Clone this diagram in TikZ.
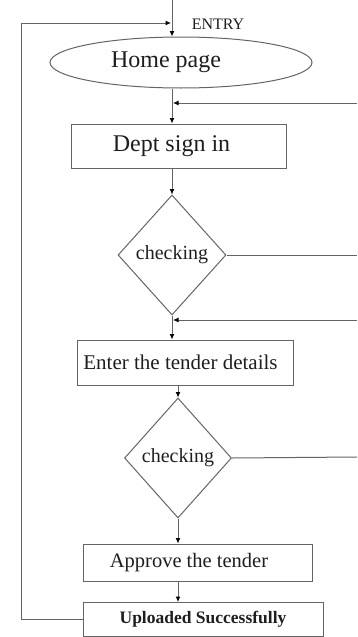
\documentclass[tikz,border=0pt]{standalone}
\usepackage{fontspec}
\setmainfont{Liberation Serif}
\usetikzlibrary{shapes.geometric, arrows.meta, positioning, calc}
\definecolor{linegray}{RGB}{100,100,100}
\definecolor{textgray}{RGB}{30,30,30}
\tikzset{
  block/.style={rectangle, draw=linegray, line width=1pt, inner sep=0pt,
                align=center, text=textgray},
  decision/.style={diamond, draw=linegray, line width=1pt, inner sep=0pt,
                   minimum width=108pt, minimum height=120pt, text=textgray,
                   font=\fontsize{20}{22}\selectfont},
  startstop/.style={ellipse, draw=linegray, line width=1pt, inner sep=0pt,
                    text=textgray},
  arrow/.style={-{Latex[length=5.5pt,width=5pt,color=black]}, line width=1pt, draw=linegray},
  link/.style={line width=1pt, draw=linegray},
}

\begin{document}
\begin{tikzpicture}[x=1pt, y=-1pt]
        \useasboundingbox (0,0) rectangle (357,637);

        \node[startstop, minimum width=262pt, minimum height=51pt,
              font=\fontsize{24}{26}\selectfont] (home) at (181,62.5) {Home page\hspace*{30pt}};
        \node[block, minimum width=215pt, minimum height=44pt,
              font=\fontsize{24}{26}\selectfont] (dept) at (178.5,146) {Dept sign in\hspace*{14pt}};
        \node[decision] (chk1) at (172,255) {checking};
        \node[block, minimum width=216pt, minimum height=45pt,
              font=\fontsize{21}{23}\selectfont] (enter) at (185,362.5) {Enter the tender details\hspace*{9pt}};
        \node[decision, minimum width=107pt] (chk2) at (178,458) {checking};
        \node[block, minimum width=229pt, minimum height=37pt,
              font=\fontsize{20.5}{22}\selectfont] (approve) at (197.5,562.5) {Approve the tender\hspace*{17pt}};
        \node[block, minimum width=240pt, minimum height=34pt,
              font=\fontsize{17.5}{19}\selectfont\bfseries] (upload) at (203,619.5) {Uploaded Successfully};

        \node[text=textgray, font=\fontsize{16}{18}\selectfont] (entrylbl) at (218,24) {ENTRY};

        % free ends on the right and the joins
        \coordinate (entry) at (172,0);
        \coordinate (j0) at (172,23);
        \coordinate (j1) at (172,103);
        \coordinate (j2) at (172,320);
        \coordinate (r1) at (357,103);
        \coordinate (r2) at (357,255);
        \coordinate (r3) at (357,320);
        \coordinate (r4) at (357,457);
        \coordinate (lp) at (21,619.5);

        \draw[arrow] (entry) -- (entry |- home.north);
        \draw[arrow] (upload.west) -- (lp) |- ($(j0)+(-1,0)$);
        \draw[arrow] (j1 |- home.south) -- (j1 |- dept.north);
        \draw[arrow] (r1) -- ($(j1)+(1,0)$);
        \draw[arrow] (chk1.north |- dept.south) -- (chk1.north);
        \draw[link] (chk1.east) -- (r2);
        \draw[arrow] (r3) -- ($(j2)+(1,0)$);
        \draw[arrow] (chk1.south) -- (chk1.south |- enter.north);
        \draw[arrow] (chk2.north |- enter.south) -- (chk2.north);
        \draw[link] (chk2.east) -- (r4);
        \draw[arrow] (chk2.south) -- (chk2.south |- approve.north);
        \draw[arrow] (chk2.south |- approve.south) -- (chk2.south |- upload.north);
      \end{tikzpicture}
\end{document}
